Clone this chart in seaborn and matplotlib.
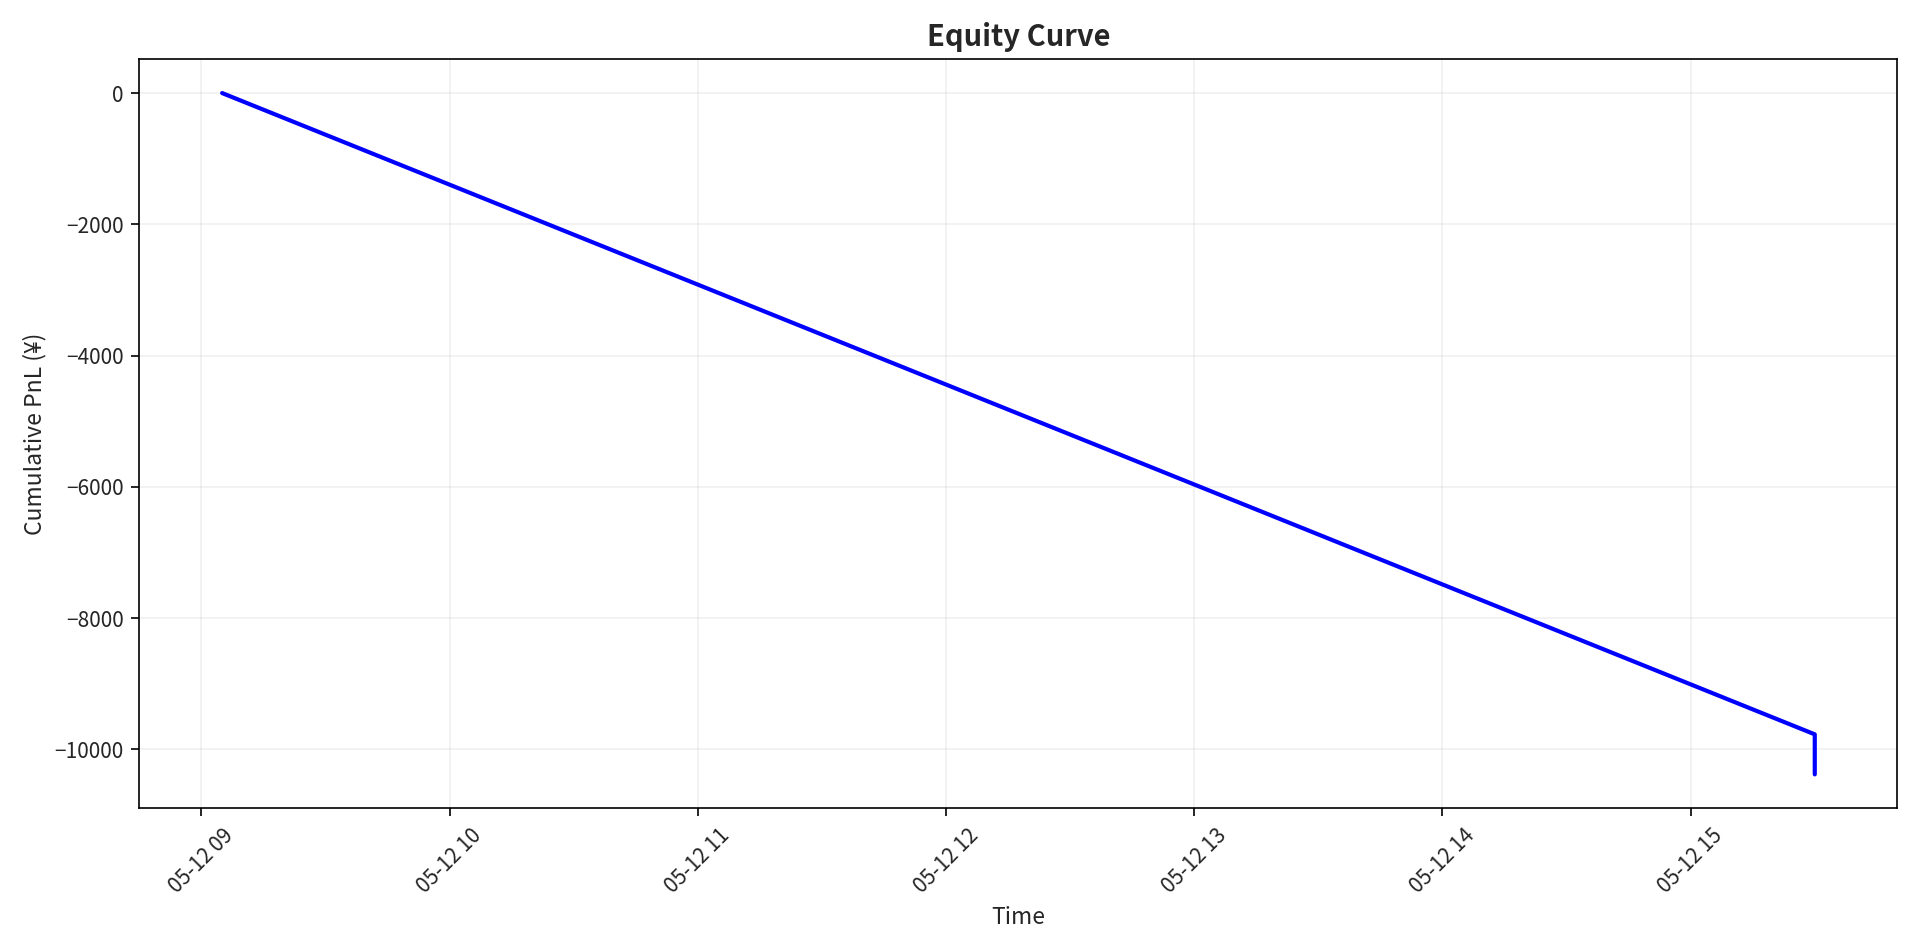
import matplotlib
matplotlib.use("Agg")
import matplotlib.pyplot as plt
import matplotlib.dates as mdates
import seaborn as sns
import pandas as pd

times = ["2024-05-12 09:05", "2024-05-12 15:30", "2024-05-12 15:30"]
pnl = [0, -9770, -10380]

df = pd.DataFrame({"Time": pd.to_datetime(times), "PnL": pnl})

sns.set_style("white")
plt.rcParams['font.family'] = ['Noto Sans CJK JP', 'DejaVu Sans']

fig, ax = plt.subplots(figsize=(12.8, 6.34), dpi=150)
ax.plot(df["Time"], df["PnL"], color="blue", linewidth=2)
ax.grid(True, alpha=0.3)
ax.set_title("Equity Curve", fontsize=14, fontweight="bold")
ax.set_xlabel("Time", fontsize=11)
ax.set_ylabel("Cumulative PnL (¥)", fontsize=11)
ax.xaxis.set_major_locator(mdates.HourLocator())
ax.xaxis.set_major_formatter(mdates.DateFormatter("%m-%d %H"))
ax.set_xlim(pd.Timestamp("2024-05-12 08:45"), pd.Timestamp("2024-05-12 15:50"))
plt.setp(ax.get_xticklabels(), rotation=45)
for s in ax.spines.values():
    s.set_color("black")
ax.tick_params(axis="both", which="both", bottom=True, left=True, length=4, color="black")
fig.tight_layout()
fig.savefig("out.png", dpi=150)
